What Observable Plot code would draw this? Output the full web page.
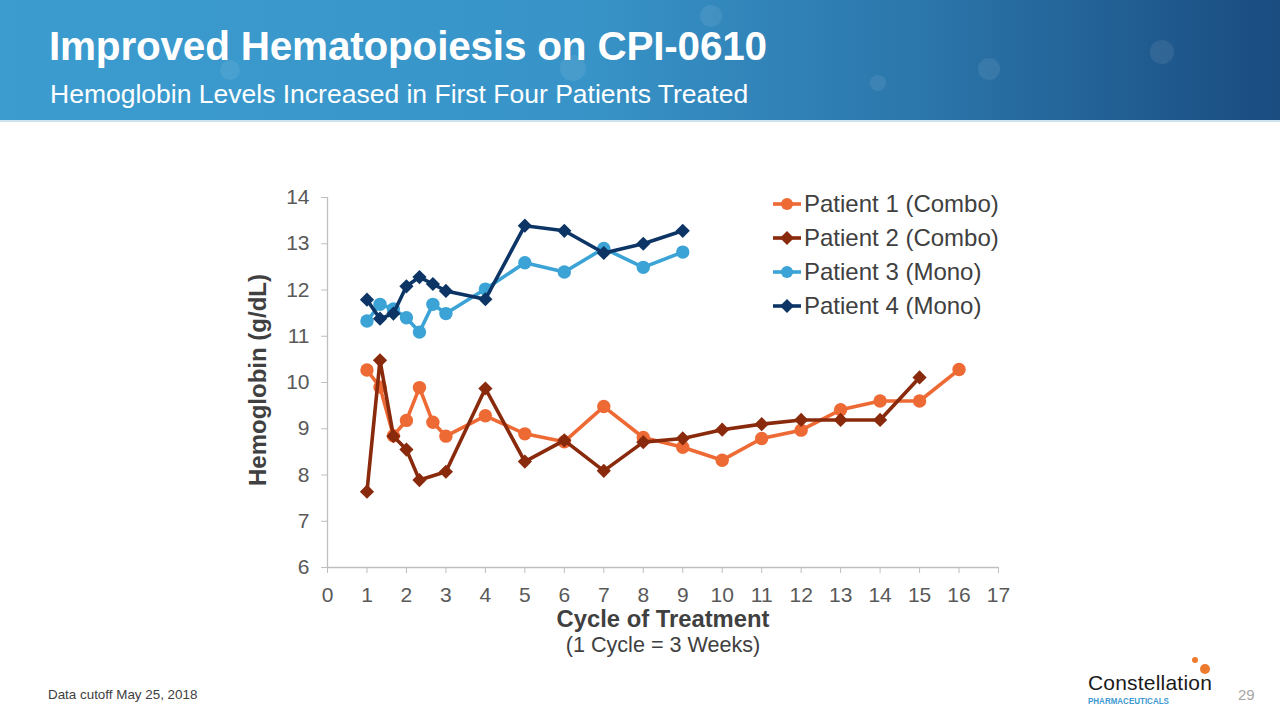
<!DOCTYPE html>
<html>
<head>
<meta charset="utf-8">
<script src="https://cdn.jsdelivr.net/npm/d3@7"></script>
<script src="https://cdn.jsdelivr.net/npm/@observablehq/plot@0.6"></script>
<style>
  html, body { margin: 0; padding: 0; background: #fff; }
  #page { position: relative; width: 1280px; height: 720px; overflow: hidden; font-family: "Liberation Sans", Arial, sans-serif; background: #fff; }
  #header { position: absolute; left: 0; top: 0; width: 1280px; height: 120px;
    background: linear-gradient(90deg, #3c9ccf 0%, #3894c8 45%, #2b76ab 72%, #1a4c80 100%);
    border-bottom: 2px solid #cfe3ef; overflow: hidden; }
  .node { position: absolute; border-radius: 50%; background: rgba(255,255,255,0.08); }
  #title { position: absolute; left: 49px; top: 23px; color: #fff; font-weight: bold; font-size: 40.5px; letter-spacing: -0.2px; white-space: nowrap; }
  #subtitle { position: absolute; left: 50px; top: 79px; color: #fff; font-size: 26.5px; white-space: nowrap; }
  #chart { position: absolute; left: 0; top: 0; }
  #legend { position: absolute; left: 773px; top: 187px; font-size: 24px; color: #404040; }
  .lrow { height: 34px; display: flex; align-items: center; white-space: nowrap; }
  .lrow svg { margin-right: 1px; }
  .axt { position: absolute; color: #404040; white-space: nowrap; }
  #ylab { left: 258px; top: 380px; font-weight: bold; font-size: 24px; transform: translate(-50%, -50%) rotate(-90deg); }
  #xlab { left: 663px; top: 605px; font-weight: bold; font-size: 23.8px; transform: translateX(-50%); }
  #xsub { left: 663px; top: 632px; font-size: 21.6px; transform: translateX(-50%); }
  #caption { position: absolute; left: 48px; top: 687px; font-size: 13.4px; color: #404040; }
  #pnum { position: absolute; left: 1238px; top: 686px; font-size: 15px; color: #a6a6a6; }
  #logo { position: absolute; left: 1088px; top: 659px; }
  #logo .name { font-size: 21px; color: #1a1a1a; letter-spacing: 0.2px; }
  #logo .sub { font-size: 8px; color: #3d9ad0; font-weight: bold; letter-spacing: 0px; margin-top: 1px; transform: scaleY(1.2); transform-origin: left top; }
  .od { position: absolute; border-radius: 50%; background: #ee7a2e; }
</style>
</head>
<body>
<div id="page">
  <div id="header">
    <div class="node" style="left:700px;top:5px;width:22px;height:22px"></div>
    <div class="node" style="left:870px;top:75px;width:16px;height:16px"></div>
    <div class="node" style="left:978px;top:58px;width:22px;height:22px"></div>
    <div class="node" style="left:1150px;top:40px;width:24px;height:24px"></div>
    <div class="node" style="left:220px;top:60px;width:20px;height:20px"></div>
    <div class="node" style="left:560px;top:55px;width:26px;height:26px"></div>
    <div id="title">Improved Hematopoiesis on CPI-0610</div>
    <div id="subtitle">Hemoglobin Levels Increased in First Four Patients Treated</div>
  </div>
  <div id="chart"></div>
  <div id="legend"></div>
  <div id="ylab" class="axt">Hemoglobin (g/dL)</div>
  <div id="xlab" class="axt">Cycle of Treatment</div>
  <div id="xsub" class="axt">(1 Cycle = 3 Weeks)</div>
  <div id="caption">Data cutoff May 25, 2018</div>
  <div id="logo">
    <div class="od" style="left:104px;top:-2px;width:6px;height:6px"></div>
    <div class="od" style="left:112px;top:5px;width:10px;height:10px"></div>
    <div class="name" style="margin-top:12px">Constellation</div>
    <div class="sub">PHARMACEUTICALS</div>
  </div>
  <div id="pnum">29</div>
</div>
<script>
// ---- data ----
const seriesNames = ["Patient 1 (Combo)", "Patient 2 (Combo)", "Patient 3 (Mono)", "Patient 4 (Mono)"];
const seriesColors = ["#ee6a35", "#8a2a0c", "#3ba3d5", "#0c3566"];
const seriesSymbols = ["circle", "diamond2", "circle", "diamond2"];

const p1Cycle = [1, 1.33, 1.67, 2, 2.33, 2.67, 3, 4, 5, 6, 7, 8, 9, 10, 11, 12, 13, 14, 15, 16];
const p1Hgb   = [10.27, 9.9, 8.85, 9.18, 9.89, 9.14, 8.84, 9.28, 8.89, 8.72, 9.48, 8.81, 8.6, 8.32, 8.79, 8.97, 9.41, 9.6, 9.6, 10.28];

const p2Cycle = [1, 1.33, 1.67, 2, 2.33, 3, 4, 5, 6, 7, 8, 9, 10, 11, 12, 13, 14, 15];
const p2Hgb   = [7.64, 10.48, 8.84, 8.55, 7.89, 8.07, 9.87, 8.29, 8.75, 8.09, 8.71, 8.79, 8.98, 9.1, 9.19, 9.19, 9.19, 10.11];

const p3Cycle = [1, 1.33, 1.67, 2, 2.33, 2.67, 3, 4, 5, 6, 7, 8, 9];
const p3Hgb   = [11.33, 11.69, 11.59, 11.4, 11.09, 11.69, 11.49, 12.02, 12.59, 12.39, 12.9, 12.49, 12.82];

const p4Cycle = [1, 1.33, 1.67, 2, 2.33, 2.67, 3, 4, 5, 6, 7, 8, 9];
const p4Hgb   = [11.79, 11.38, 11.49, 12.08, 12.28, 12.13, 11.98, 11.8, 13.39, 13.28, 12.8, 13.0, 13.28];

const xTicks = d3.range(0, 18);
const yTicks = d3.range(6, 15);

const series = [
  {cycle: p1Cycle, hgb: p1Hgb},
  {cycle: p2Cycle, hgb: p2Hgb},
  {cycle: p3Cycle, hgb: p3Hgb},
  {cycle: p4Cycle, hgb: p4Hgb}
].map((s, i) => s.cycle.map((c, j) => ({patient: seriesNames[i], cycle: c, hgb: s.hgb[j]})));

const marks = [
  Plot.ruleX([0], {stroke: "#bfbfbf", strokeWidth: 1.3}),
  Plot.ruleY([6], {stroke: "#bfbfbf", strokeWidth: 1.3}),
  Plot.axisX({ticks: xTicks, tickFormat: d => d, tickSize: 6, tickPadding: 14, stroke: "#bfbfbf", fill: "#595959", label: null, fontSize: 21}),
  Plot.axisY({ticks: yTicks, tickFormat: d => d, tickSize: 6, tickPadding: 12, stroke: "#bfbfbf", fill: "#595959", label: null, fontSize: 21})
];
series.forEach((data, i) => {
  marks.push(Plot.line(data, {x: "cycle", y: "hgb", stroke: seriesColors[i], strokeWidth: 3.6, curve: "linear"}));
  marks.push(Plot.dot(data, {x: "cycle", y: "hgb", fill: seriesColors[i], stroke: "none",
    symbol: seriesSymbols[i], r: seriesSymbols[i] === "circle" ? 6.7 : 6.4}));
});

const chart = Plot.plot({
  width: 1280,
  height: 720,
  marginLeft: 327,
  marginRight: 282,
  marginTop: 197,
  marginBottom: 153,
  x: {domain: [0, 17]},
  y: {domain: [6, 14]},
  style: {fontFamily: "Liberation Sans, Arial, sans-serif", fontSize: "21px", background: "transparent", overflow: "visible"},
  marks
});
document.getElementById("chart").appendChild(chart);

// ---- legend ----
const legend = d3.select("#legend");
seriesNames.forEach((name, i) => {
  const row = legend.append("div").attr("class", "lrow");
  const svg = row.append("svg").attr("width", 30).attr("height", 20);
  svg.append("line").attr("x1", 0).attr("x2", 28).attr("y1", 10).attr("y2", 10)
    .attr("stroke", seriesColors[i]).attr("stroke-width", 3.6);
  if (seriesSymbols[i] === "circle") {
    svg.append("circle").attr("cx", 14).attr("cy", 10).attr("r", 6).attr("fill", seriesColors[i]);
  } else {
    svg.append("path").attr("d", "M14,3L21,10L14,17L7,10Z").attr("fill", seriesColors[i]);
  }
  row.append("span").text(name);
});
</script>
</body>
</html>
